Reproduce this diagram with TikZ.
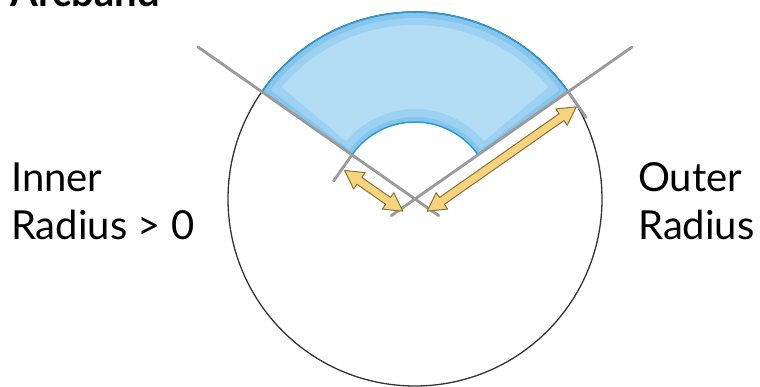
\documentclass[tikz,border=0pt]{standalone}
\usepackage{fontspec}
\setmainfont{Lato}
\usetikzlibrary{calc}
\definecolor{bandedge}{HTML}{86C5EC}
\definecolor{bandmid}{HTML}{9DD1F1}
\definecolor{bandin}{HTML}{B3DDF5}
\definecolor{bandline}{HTML}{2C9AD6}
\definecolor{guide}{HTML}{9A9A9A}
\definecolor{arrfill}{HTML}{F6D37C}
\definecolor{arrline}{HTML}{85733A}
\tikzset{
  guideline/.style={draw=guide, line width=2.8pt, line cap=round},
  bandarc/.style={draw=bandline, line width=1.5pt},
  lbl/.style={anchor=base west, inner sep=0pt, font=\fontsize{40}{48}\selectfont},
  fatarrow/.style={fill=arrfill, draw=arrline, line width=1pt, line join=round},
}
% fat double arrow along local x from #1 to #2
\newcommand{\fatdarrow}[2]{%
  \path[fatarrow] (#1,0) -- (#1+18,10) -- (#1+18,4.2) -- (#2-18,4.2) -- (#2-18,10) -- (#2,0)
    -- (#2-18,-10) -- (#2-18,-4.2) -- (#1+18,-4.2) -- (#1+18,-10) -- cycle;}
\begin{document}
\begin{tikzpicture}[x=1pt,y=1pt]
\useasboundingbox (0,0) rectangle (760,387);
\clip (0,0) rectangle (760,387);
\coordinate (C) at (415,188);
% band fill with soft inner glow
\fill[bandedge] ($(C)+(35:187)$) arc[start angle=35,end angle=145,radius=187]
  -- ($(C)+(145:77)$) arc[start angle=145,end angle=35,radius=77] -- cycle;
\fill[bandmid] ($(C)+(37:181)$) arc[start angle=37,end angle=143,radius=181]
  -- ($(C)+(143:82)$) arc[start angle=143,end angle=37,radius=82] -- cycle;
\fill[bandin] ($(C)+(40:174)$) arc[start angle=40,end angle=140,radius=174]
  -- ($(C)+(140:90)$) arc[start angle=140,end angle=40,radius=90] -- cycle;
% circle
\draw[black!80, line width=1.3pt] (C) circle[radius=187];
% blue arcs
\draw[bandarc] ($(C)+(35:187)$) arc[start angle=35,end angle=145,radius=187];
\draw[bandarc] ($(C)+(35:77)$) arc[start angle=35,end angle=145,radius=77];
% guide lines
\coordinate (L1) at ($(C)+(-35:29)$);
\coordinate (L2) at ($(C)+(145:265)$);
\coordinate (R1) at ($(C)+(215:29)$);
\coordinate (R2) at ($(C)+(35:265)$);
\draw[guideline] (L1) -- (L2);
\draw[guideline] (R1) -- (R2);
\coordinate (TI1) at ($(C)+(145:77)$);
\coordinate (TI2) at ($(TI1)+(235:32)$);
\coordinate (TO1) at ($(C)+(35:187)$);
\coordinate (TO2) at ($(TO1)+(-55:31)$);
\draw[guideline] (TI1) -- (TI2);
\draw[guideline] (TO1) -- (TO2);
% dimension arrows
\begin{scope}[shift={($(C)+(235:17)$)}, rotate=145]
  \fatdarrow{3}{74}
\end{scope}
\begin{scope}[shift={($(C)+(-55:17)$)}, rotate=35]
  \fatdarrow{3}{185}
\end{scope}
% labels
\node[lbl, font=\fontsize{40}{48}\selectfont\bfseries] (title) at (10,380) {Arcband};
\node[lbl] (inner1) at (11,195) {Inner};
\node[lbl] (inner2) at (11,147) {Radius > 0};
\node[lbl] (outer1) at (638,195) {Outer};
\node[lbl] (outer2) at (638,147) {Radius};
\end{tikzpicture}
\end{document}
